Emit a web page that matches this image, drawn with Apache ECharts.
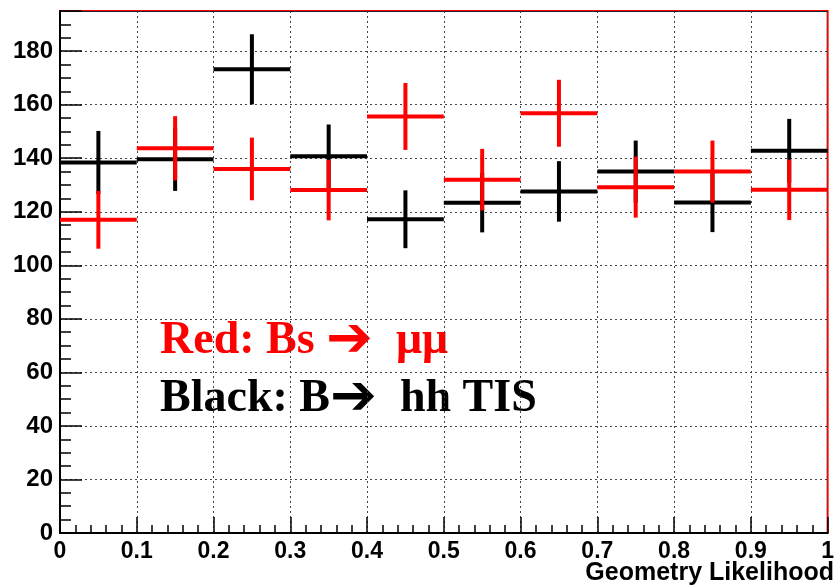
<!DOCTYPE html>
<html>
<head>
<meta charset="utf-8">
<script src="https://cdn.jsdelivr.net/npm/echarts@6/dist/echarts.min.js"></script>
<style>
    html, body {margin: 0; padding: 0; background: #fff;}
    #chart {width: 837px; height: 587px;}
</style>
</head>
<body>
<div id="chart"></div>
<script>
// bin centres of the Geometry Likelihood histogram
var binCenters = [0.05, 0.15, 0.25, 0.35, 0.45, 0.55, 0.65, 0.75, 0.85, 0.95];
var binWidth = 0.1;
// Black: B -> hh TIS
var blackVals = [138.4, 139.6, 173.2, 140.7, 117.2, 123.4, 127.6, 135.0, 123.5, 142.8];
var blackErrs = [11.8, 11.8, 13.1, 11.9, 10.8, 11.1, 11.3, 11.6, 11.1, 11.9];
// Red: Bs -> mumu
var redVals = [117.0, 143.7, 136.0, 128.1, 155.6, 132.0, 156.8, 129.2, 135.0, 128.2];
var redErrs = [10.8, 12.0, 11.7, 11.3, 12.5, 11.5, 12.5, 11.4, 11.6, 11.3];
var xTicks = ["0", "0.1", "0.2", "0.3", "0.4", "0.5", "0.6", "0.7", "0.8", "0.9", "1"];

var myChart = echarts.init(document.getElementById('chart'));

var toData = function (vals, errs) {
    var d = [];
    for (var i = 0; i < binCenters.length; i++) {
        d.push([binCenters[i], vals[i], errs[i]]);
    }
    return d;
};

var crossItem = function (color) {
    return function (params, api) {
        var x = api.value(0), y = api.value(1), e = api.value(2);
        var l = api.coord([x - binWidth / 2, y]);
        var r = api.coord([x + binWidth / 2, y]);
        var t = api.coord([x, y + e]);
        var b = api.coord([x, y - e]);
        var st = {stroke: color, lineWidth: 4};
        return {
            type: 'group',
            children: [
                {type: 'line', shape: {x1: l[0], y1: l[1], x2: r[0], y2: r[1]}, style: st},
                {type: 'line', shape: {x1: t[0], y1: t[1], x2: b[0], y2: b[1]}, style: st}
            ]
        };
    };
};

var labelFont = {color: '#000', fontFamily: 'Liberation Sans', fontWeight: 'bold'};

var legendRich = function (color) {
    return {
        t: {fill: color, fontFamily: 'Liberation Serif', fontWeight: 'bold', fontSize: 46, lineHeight: 56},
        ar: {fill: color, fontFamily: 'DejaVu Sans', fontWeight: 'bold', fontSize: 56, lineHeight: 56}
    };
};

var option = {
    animation: false,
    grid: {
        left: 60, right: 3, top: 11, bottom: 54,
        show: true, borderColor: '#ff0000', borderWidth: 2, backgroundColor: '#fff'
    },
    xAxis: [{
        type: 'value', min: 0, max: 1, interval: 0.1,
        axisLine: {show: true, onZero: false, lineStyle: {color: '#000', width: 2}},
        axisTick: {show: true, inside: true, length: 16, lineStyle: {color: '#000', width: 1.5}},
        minorTick: {show: true, splitNumber: 5, length: 8, lineStyle: {color: '#000', width: 1.5}},
        splitLine: {show: true, lineStyle: {color: '#444', type: [2, 3], width: 1}},
        axisLabel: Object.assign({
            margin: 7, fontSize: 23,
            formatter: function (v) {
                return xTicks[Math.round(v * 10)];
            }
        }, labelFont)
    }, {
        // top edge of the frame
        type: 'value', position: 'top', min: 0, max: 1,
        axisLine: {show: true, onZero: false, lineStyle: {color: '#222', width: 1}},
        axisTick: {show: false}, axisLabel: {show: false}, splitLine: {show: false}
    }],
    yAxis: {
        type: 'value', min: 0, max: 195, interval: 20,
        axisLine: {show: true, onZero: false, lineStyle: {color: '#000', width: 2}},
        axisTick: {show: true, inside: true, length: 22, lineStyle: {color: '#000', width: 1.5}},
        minorTick: {show: true, splitNumber: 4, length: 11, lineStyle: {color: '#000', width: 1.5}},
        splitLine: {show: true, lineStyle: {color: '#444', type: [2, 3], width: 1}},
        axisLabel: Object.assign({
            margin: 7, fontSize: 24, showMaxLabel: false,
            formatter: function (v) {
                return v % 20 === 0 ? String(v) : '';
            }
        }, labelFont)
    },
    series: [
        {
            name: 'B -> hh TIS', type: 'custom', renderItem: crossItem('#000000'),
            data: toData(blackVals, blackErrs), z: 2
        },
        {
            name: 'Bs -> mumu', type: 'custom', renderItem: crossItem('#ff0000'),
            data: toData(redVals, redErrs), z: 3
        }
    ],
    graphic: [
        {
            type: 'text', right: 3, top: 561,
            style: {
                text: 'Geometry Likelihood', fill: '#000',
                font: 'bold 25px "Liberation Sans"'
            }
        },
        {
            type: 'text', left: 160, top: 313,
            style: {
                text: '{t|Red: Bs }{ar|\u2794}{t|\u2002\u03bc\u03bc}',
                rich: legendRich('#ff0000')
            }
        },
        {
            type: 'text', left: 160, top: 371,
            style: {
                text: '{t|Black: B}{ar|\u2794}{t|\u2002hh TIS}',
                rich: legendRich('#000000')
            }
        }
    ]
};

myChart.setOption(option);
</script>
</body>
</html>
